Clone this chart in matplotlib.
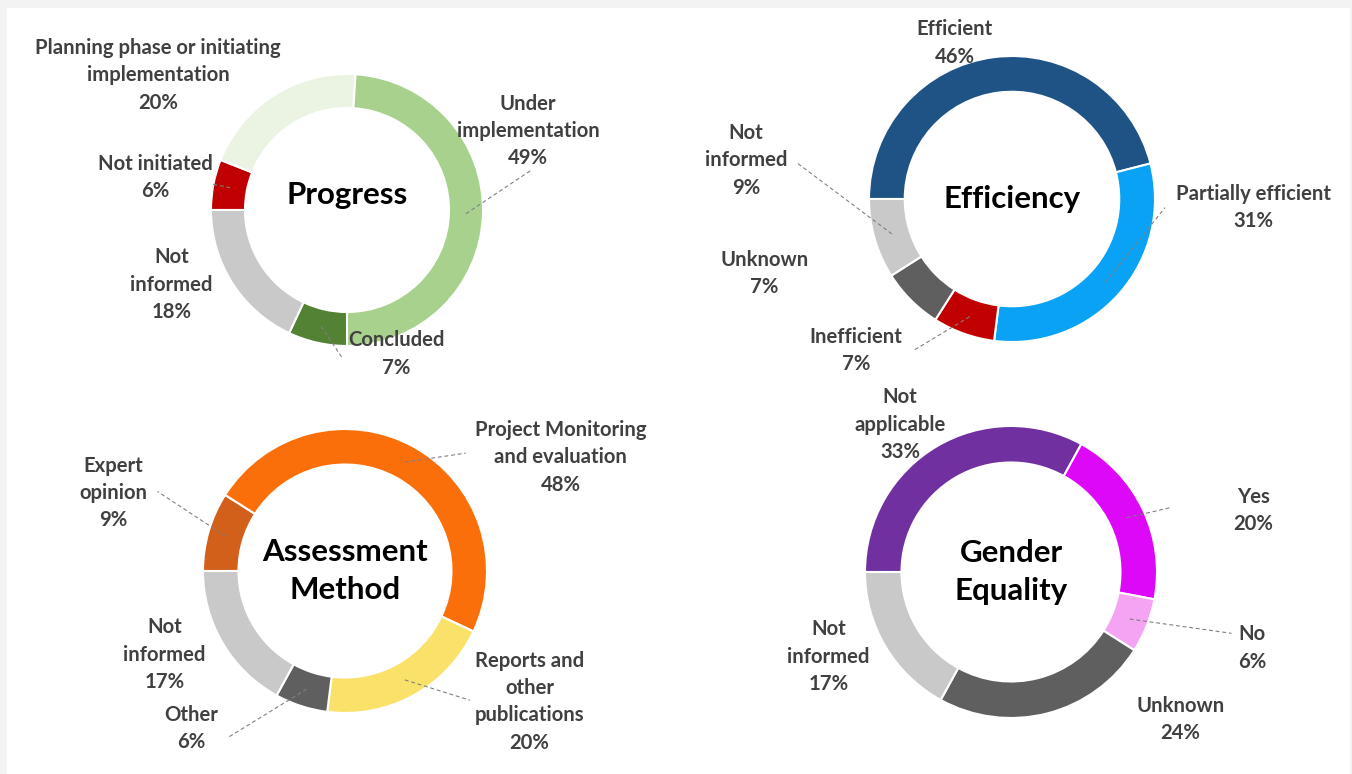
import numpy as np
import matplotlib
matplotlib.use("Agg")
import matplotlib.pyplot as plt

plt.rcParams['font.family'] = ['Lato', 'DejaVu Sans']

FW, FH, DPI = 1352, 774, 100

# ---------------- data ----------------
progress_labels = ["Not initiated", "Planning phase or initiating\nimplementation",
                   "Under\nimplementation", "Concluded", "Not\ninformed"]
progress_values = [6, 20, 49, 7, 18]
progress_colors = ["#c00000", "#ebf4e3", "#a9d18e", "#548235", "#c9c9c9"]

efficiency_labels = ["Efficient", "Partially efficient", "Inefficient", "Unknown", "Not\ninformed"]
efficiency_values = [46, 31, 7, 7, 9]
efficiency_colors = ["#1f5386", "#0aa2f5", "#c00000", "#5f5f5f", "#c9c9c9"]

assessment_labels = ["Expert\nopinion", "Project Monitoring\nand evaluation",
                     "Reports and\nother\npublications", "Other", "Not\ninformed"]
assessment_values = [9, 48, 20, 6, 17]
assessment_colors = ["#d2601a", "#fb6f0a", "#fae16a", "#5f5f5f", "#c9c9c9"]

gender_labels = ["Not\napplicable", "Yes", "No", "Unknown", "Not\ninformed"]
gender_values = [33, 20, 6, 24, 17]
gender_colors = ["#7030a0", "#dd08f7", "#f5a3f3", "#5f5f5f", "#c9c9c9"]

# ---------------- layout (pixels / radius units) ----------------
charts = [
    dict(title="Progress", title_xy=(0.0, 0.11), center=(347, 210), r=136,
         labels=progress_labels, values=progress_values, colors=progress_colors,
         label_xy=[(-1.41, 0.24), (-1.39, 0.99), (1.33, 0.58), (0.36, -1.06), (-1.29, -0.55)],
         leader_end=[(-0.99, 0.19), None, (1.35, 0.29), (-0.04, -1.08), None]),
    dict(title="Efficiency", title_xy=(0.0, 0.0), center=(1012, 199), r=143,
         labels=efficiency_labels, values=efficiency_values, colors=efficiency_colors,
         label_xy=[(-0.40, 1.09), (1.69, -0.06), (-1.09, -1.06), (-1.73, -0.52), (-1.86, 0.27)],
         leader_end=[None, (1.07, -0.06), (-0.69, -1.06), None, (-1.50, 0.25)]),
    dict(title="Assessment\nMethod", title_xy=(0.0, 0.0), center=(345, 571), r=142,
         labels=assessment_labels, values=assessment_values, colors=assessment_colors,
         label_xy=[(-1.63, 0.55), (1.52, 0.80), (1.30, -0.92), (-1.08, -1.11), (-1.27, -0.59)],
         leader_end=[(-1.32, 0.56), (0.85, 0.83), (0.88, -0.91), (-0.82, -1.17), None]),
    dict(title="Gender\nEquality", title_xy=(0.0, 0.0), center=(1011, 572), r=146,
         labels=gender_labels, values=gender_values, colors=gender_colors,
         label_xy=[(-0.76, 1.01), (1.66, 0.42), (1.65, -0.52), (1.16, -1.01), (-1.25, -0.58)],
         leader_end=[None, (1.09, 0.44), (1.51, -0.42), None, None]),
]

fig = plt.figure(figsize=(FW / DPI, FH / DPI), dpi=DPI)
fig.patch.set_facecolor("#f3f3f3")
bg = fig.add_axes([7 / FW, 0, (FW - 9) / FW, (FH - 8) / FH], zorder=-10)
bg.set_facecolor("white")
bg.set_xticks([]); bg.set_yticks([])
for s in bg.spines.values():
    s.set_visible(False)

LABEL_COLOR = "#404040"
RING = 0.25
BOX = 300  # axes box size in pixels

for ch in charts:
    cx, cy = ch["center"]
    r = ch["r"]
    ax = fig.add_axes([(cx - BOX / 2) / FW, 1 - (cy + BOX / 2) / FH, BOX / FW, BOX / FH])
    half = BOX / 2 / r
    ax.axis("off")
    wedges, _ = ax.pie(ch["values"], colors=ch["colors"], startangle=180, counterclock=False,
                       radius=1.0, wedgeprops=dict(width=RING, edgecolor="white", linewidth=1.5))
    ax.set_xlim(-half, half)
    ax.set_ylim(-half, half)
    ax.set_aspect("equal", adjustable="box")
    total = sum(ch["values"])
    for w, lab, v, lxy, lend in zip(wedges, ch["labels"], ch["values"], ch["label_xy"], ch["leader_end"]):
        ang = np.deg2rad((w.theta1 + w.theta2) / 2)
        mid_r = 1 - RING / 2
        ax_pt = (mid_r * np.cos(ang), mid_r * np.sin(ang))
        if lend is not None:
            ax.plot([ax_pt[0], lend[0]], [ax_pt[1], lend[1]], color="#808080", lw=0.8,
                    ls=(0, (3.5, 2.5)), clip_on=False, zorder=5)
        pct = f"{round(100 * v / total)}%"
        ax.text(lxy[0], lxy[1], f"{lab}\n{pct}", ha="center", va="center", fontsize=14.6,
                fontweight="bold", color=LABEL_COLOR, linespacing=1.46, clip_on=False)
    ax.text(ch["title_xy"][0], ch["title_xy"][1], ch["title"], ha="center", va="center",
            fontsize=22.5, fontweight="bold", color="black", linespacing=1.46)

fig.savefig("out.png", dpi=DPI)
